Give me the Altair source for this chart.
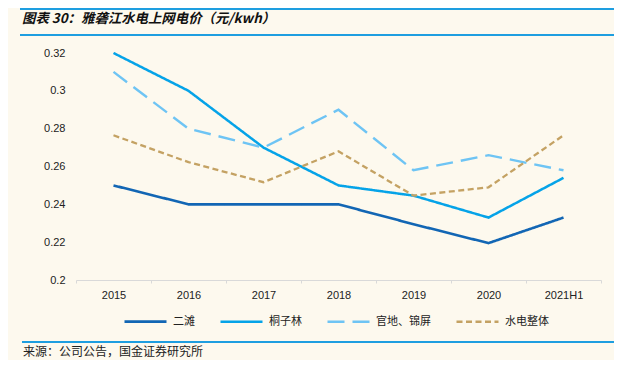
import altair as alt
import pandas as pd

years = ["2015", "2016", "2017", "2018", "2019", "2020", "2021H1"]
ertan = [0.250, 0.240, 0.240, 0.240, 0.2295, 0.2195, 0.233]
tongzilin = [0.320, 0.300, 0.270, 0.250, 0.2446, 0.233, 0.254]
guandi_jinping = [0.310, 0.280, 0.270, 0.290, 0.258, 0.266, 0.258]
hydro_total = [0.2765, 0.2623, 0.2517, 0.268, 0.2446, 0.249, 0.2765]

series_names = ["二滩", "桐子林", "官地、锦屏", "水电整体"]
series_values = [ertan, tongzilin, guandi_jinping, hydro_total]
colors = ["#1266b4", "#05a3e8", "#6ec4f4", "#c4a263"]
dashes = [[1, 0], [1, 0], [17, 8], [6, 3.5]]
widths = [2.6, 2.3, 2.3, 2.3]
y_ticks = [0.2, 0.22, 0.24, 0.26, 0.28, 0.3, 0.32]

title_text = "图表 30：雅砻江水电上网电价（元/kwh）"
source_text = "来源：公司公告，国金证券研究所"

rows = []
for name, vals in zip(series_names, series_values):
    for yr, v in zip(years, vals):
        rows.append({"year": yr, "value": v, "series": name})
df = pd.DataFrame(rows)

legend_cfg = alt.Legend(
    title=None, orient="none", direction="horizontal",
    legendX=47, legendY=246,
    symbolType="stroke", symbolSize=1764, symbolStrokeWidth=2.5,
    labelFont="Noto Sans CJK SC", labelFontSize=11, labelColor="#222",
    labelOffset=5, columnPadding=20,
)

lines = alt.Chart(df).mark_line().encode(
    x=alt.X("year:N", sort=years,
            scale=alt.Scale(type="band", paddingInner=0, paddingOuter=0),
            axis=alt.Axis(title=None, labelAngle=0, tickBand="extent",
                          domainColor="#d9d9d9", tickColor="#d9d9d9", tickSize=3,
                          labelFont="Liberation Sans", labelFontSize=11,
                          labelColor="#222", labelPadding=6)),
    y=alt.Y("value:Q", scale=alt.Scale(domain=[0.2, 0.32], nice=False, zero=False),
            axis=alt.Axis(title=None, values=y_ticks, grid=False, domain=False,
                          ticks=False, labelPadding=11, format=".2~f",
                          labelFont="Liberation Sans", labelFontSize=11,
                          labelColor="#222")),
    color=alt.Color("series:N", sort=series_names,
                    scale=alt.Scale(domain=series_names, range=colors),
                    legend=legend_cfg),
    strokeDash=alt.StrokeDash("series:N", sort=series_names,
                              scale=alt.Scale(domain=series_names, range=dashes),
                              legend=legend_cfg),
    strokeWidth=alt.StrokeWidth("series:N", sort=series_names,
                                scale=alt.Scale(domain=series_names, range=widths),
                                legend=None),
)

line_color = "#1e9ee0"
top_rule1 = alt.Chart(pd.DataFrame({"a": [0]})).mark_rule(color=line_color, strokeWidth=2).encode(
    x=alt.value(-56), x2=alt.value(540), y=alt.value(-44))
top_rule2 = alt.Chart(pd.DataFrame({"a": [0]})).mark_rule(color=line_color, strokeWidth=2).encode(
    x=alt.value(-56), x2=alt.value(540), y=alt.value(-18))
bottom_rule = alt.Chart(pd.DataFrame({"a": [0]})).mark_rule(color=line_color, strokeWidth=2).encode(
    x=alt.value(-54), x2=alt.value(540), y=alt.value(289))

title = alt.Chart(pd.DataFrame({"t": [title_text]})).mark_text(
    align="left", baseline="middle", font="Noto Sans CJK SC", fontSize=13.4,
    fontWeight="bold", fontStyle="italic", color="#111").encode(
    text="t:N", x=alt.value(-54), y=alt.value(-34))

source = alt.Chart(pd.DataFrame({"t": [source_text]})).mark_text(
    align="left", baseline="middle", font="Noto Sans CJK SC", fontSize=12,
    color="#222").encode(
    text="t:N", x=alt.value(-53), y=alt.value(299))

chart = alt.layer(lines, top_rule1, top_rule2, bottom_rule, title, source).properties(
    width=525, height=227,
    autosize=alt.AutoSizeParams(type="none"),
    padding={"left": 68, "top": 45, "right": 13, "bottom": 80},
    background="#fdf9ee",
).configure_view(stroke=None)

chart.save("out.html", embed_options={"renderer": "svg", "actions": False})
